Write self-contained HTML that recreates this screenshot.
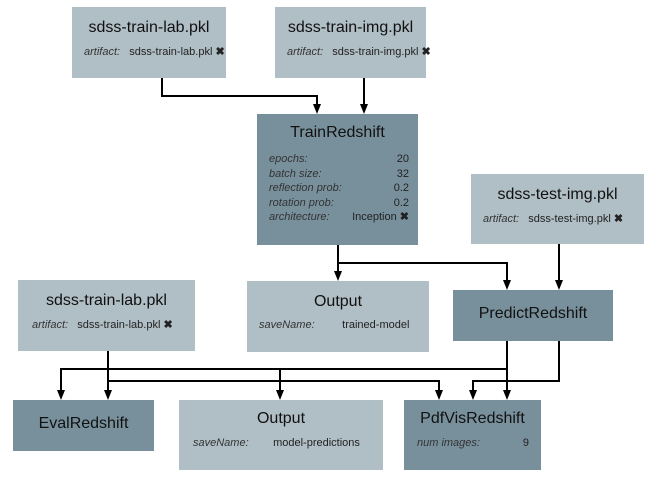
<!DOCTYPE html>
<html><head><style>
body{margin:0;width:664px;height:479px;background:#fff;position:relative;overflow:hidden;font-family:"Liberation Sans",Arial,sans-serif;}
.b{position:absolute;box-sizing:border-box;color:#111;}
.l{background:#b0bec5;}
.d{background:#78909c;}
.t{text-align:center;font-size:16px;}
.r{font-size:11px;position:absolute;white-space:nowrap;color:#222;}
.r i{color:#333;}
svg{position:absolute;left:0;top:0;}
</style></head><body>
<div class="b l" style="left:72px;top:7px;width:154px;height:71px;">
 <div class="t" style="margin-top:12px">sdss-train-lab.pkl</div>
 <div class="r" style="left:12px;top:38px"><i>artifact:</i>&nbsp;&nbsp; sdss-train-lab.pkl <b>✖</b></div>
</div>
<div class="b l" style="left:275px;top:7px;width:151px;height:71px;">
 <div class="t" style="margin-top:12px">sdss-train-img.pkl</div>
 <div class="r" style="left:12px;top:38px"><i>artifact:</i>&nbsp;&nbsp; sdss-train-img.pkl <b>✖</b></div>
</div>
<div class="b d" style="left:257px;top:114px;width:161px;height:131px;">
 <div class="t" style="margin-top:10px">TrainRedshift</div>
 <div class="r" style="left:12px;top:38px;line-height:14.6px;width:140px">
  <div><i>epochs:</i><span style="float:right">20</span></div>
  <div><i>batch size:</i><span style="float:right">32</span></div>
  <div><i>reflection prob:</i><span style="float:right">0.2</span></div>
  <div><i>rotation prob:</i><span style="float:right">0.2</span></div>
  <div><i>architecture:</i><span style="float:right">Inception <b>✖</b></span></div>
 </div>
</div>
<div class="b l" style="left:471px;top:174px;width:173px;height:70px;">
 <div class="t" style="margin-top:12px">sdss-test-img.pkl</div>
 <div class="r" style="left:12px;top:38px"><i>artifact:</i>&nbsp;&nbsp; sdss-test-img.pkl <b>✖</b></div>
</div>
<div class="b l" style="left:247px;top:281px;width:182px;height:71px;">
 <div class="t" style="margin-top:12px">Output</div>
 <div class="r" style="left:12px;top:38px"><i>saveName:</i>&nbsp;&nbsp;&nbsp;&nbsp;&nbsp;&nbsp;&nbsp;&nbsp; trained-model</div>
</div>
<div class="b d" style="left:453px;top:290px;width:160px;height:51px;">
 <div class="t" style="margin-top:15px">PredictRedshift</div>
</div>
<div class="b l" style="left:18px;top:280px;width:177px;height:71px;">
 <div class="t" style="margin-top:12px">sdss-train-lab.pkl</div>
 <div class="r" style="left:14px;top:38px"><i>artifact:</i>&nbsp;&nbsp; sdss-train-lab.pkl <b>✖</b></div>
</div>
<div class="b d" style="left:13px;top:400px;width:141px;height:51px;">
 <div class="t" style="margin-top:15px">EvalRedshift</div>
</div>
<div class="b l" style="left:179px;top:400px;width:204px;height:70px;">
 <div class="t" style="margin-top:10px">Output</div>
 <div class="r" style="left:14px;top:37px"><i>saveName:</i>&nbsp;&nbsp;&nbsp;&nbsp;&nbsp;&nbsp;&nbsp; model-predictions</div>
</div>
<div class="b d" style="left:404px;top:400px;width:137px;height:70px;">
 <div class="t" style="margin-top:10px">PdfVisRedshift</div>
 <div class="r" style="left:13px;top:37px;width:112px"><i>num images:</i><span style="float:right">9</span></div>
</div>
<svg width="664" height="479" viewBox="0 0 664 479">
<g fill="none" stroke="#000" stroke-width="2">
<polyline points="162,78 162,96 317,96 317,106"/>
<polyline points="364,78 364,106"/>
<polyline points="338,245 338,273"/>
<polyline points="338,263 507,263 507,282"/>
<polyline points="559,244 559,282"/>
<polyline points="507,341 507,392"/>
<polyline points="507,369 61,369 61,392"/>
<polyline points="280,369 280,392"/>
<polyline points="559,341 559,381 473,381 473,392"/>
<polyline points="108,351 108,392"/>
<polyline points="108,381 439,381 439,392"/>
</g>
<g fill="#000">
<polygon points="313,104 321,104 317,114"/>
<polygon points="360,104 368,104 364,114"/>
<polygon points="334,271 342,271 338,281"/>
<polygon points="503,280 511,280 507,290"/>
<polygon points="555,280 563,280 559,290"/>
<polygon points="57,390 65,390 61,400"/>
<polygon points="104,390 112,390 108,400"/>
<polygon points="276,390 284,390 280,400"/>
<polygon points="435,390 443,390 439,400"/>
<polygon points="469,390 477,390 473,400"/>
<polygon points="503,390 511,390 507,400"/>
</g>
</svg>
</body></html>
